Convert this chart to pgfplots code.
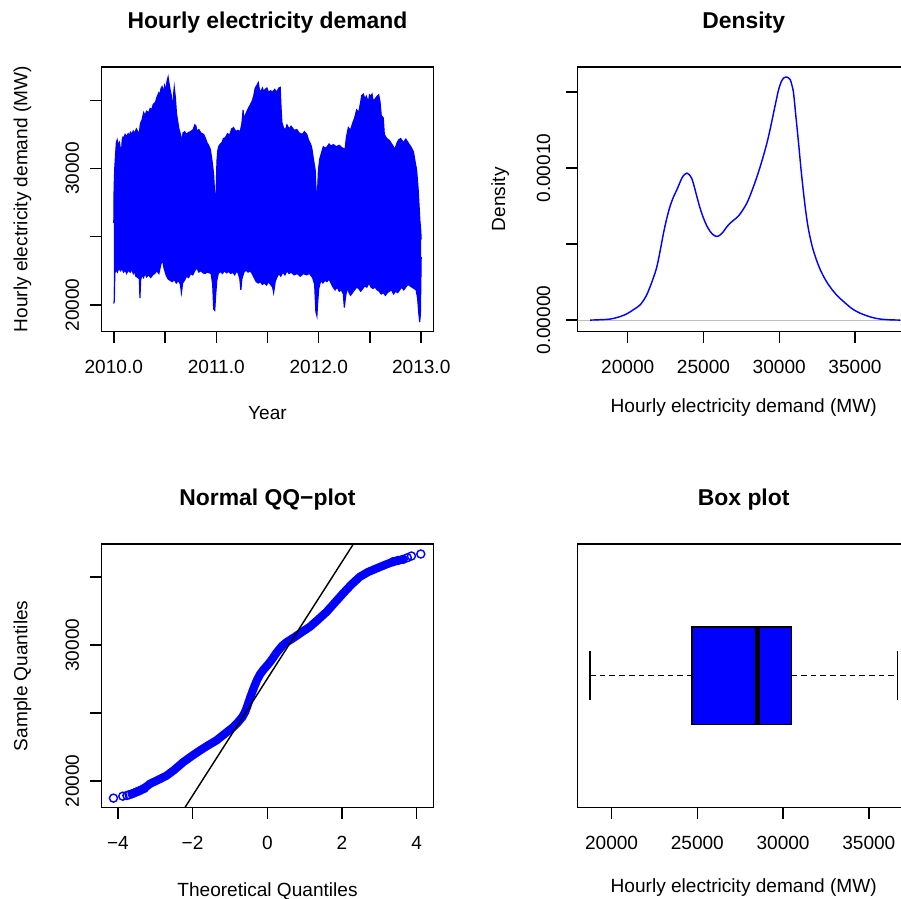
\documentclass[border=0pt]{standalone}
\usepackage{fontspec}
\setmainfont{Liberation Sans}
\usepackage{pgfplots}
\pgfplotsset{compat=1.18}
\usepgfplotslibrary{fillbetween}
\newlength\px
\setlength\px{0.5244pt}
\definecolor{rblue}{RGB}{0,0,255}
\definecolor{rgray}{RGB}{190,190,190}
\pgfplotsset{
  rpanel/.style={
    scale only axis, anchor=south west,
    width=332\px, height=264.5\px,
    axis line style={line width=0.75pt},
    every tick/.style={black, line width=0.75pt},
    tick align=outside, major tick length=11.5\px,
    tick pos=left, scaled ticks=false,
    xticklabel style={anchor=base, yshift=-30.8\px},
    every axis title/.style={at={(axis description cs:0.5,1)}, anchor=base,
      yshift=38.5\px, font={\fontsize{12}{14}\selectfont\bfseries}},
    every axis x label/.style={at={(axis description cs:0.5,0)}, anchor=base, yshift=-88.5\px},
    every axis y label/.style={at={(axis description cs:0,0.5)}, xshift=-74\px, rotate=90, anchor=base},
  }
}
\begin{document}
\begin{tikzpicture}

% --- time series ---
\begin{axis}[rpanel, at={(101.5\px,-331.5\px)},
  xmin=2009.88, xmax=2013.12, ymin=18050, ymax=37440,
  xtick={2010,2010.5,2011,2011.5,2012,2012.5,2013},
  xticklabels={2010.0,,2011.0,,2012.0,,2013.0},
  ytick={20000,25000,30000,35000}, yticklabels={20000,,30000,},
  yticklabel style={xshift=-11.2\px, rotate=90, anchor=base},
  title={Hourly electricity demand}, xlabel={Year},
  ylabel={Hourly electricity demand (MW)}]
\addplot[rblue, line width=0.6pt, name path=up] coordinates {
(2010.000,26000) (2010.003,28600) (2010.010,30100) (2010.017,31000) (2010.025,31900) (2010.033,32100)
(2010.045,31700) (2010.055,31900) (2010.065,31400) (2010.075,31200) (2010.082,32100) (2010.090,32300)
(2010.098,32250) (2010.110,32500) (2010.125,32350) (2010.140,32550) (2010.150,32400) (2010.163,32650)
(2010.175,32500) (2010.190,32750) (2010.205,32600) (2010.220,32900) (2010.235,32700) (2010.244,32400)
(2010.252,32800) (2010.260,33300) (2010.275,33550) (2010.292,34100) (2010.305,33850) (2010.320,34200)
(2010.341,34100) (2010.355,34400) (2010.370,34300) (2010.385,34700) (2010.406,34850) (2010.420,35200)
(2010.439,35550) (2010.450,35350) (2010.460,35850) (2010.471,36000) (2010.485,35600) (2010.495,36050)
(2010.504,35700) (2010.520,36400) (2010.530,36700) (2010.540,36200) (2010.550,35750) (2010.560,35400)
(2010.569,34300) (2010.578,35000) (2010.590,35950) (2010.601,35200) (2010.612,34000) (2010.625,33400)
(2010.633,33000) (2010.650,32500) (2010.666,32000) (2010.675,32600) (2010.690,32700) (2010.710,32500)
(2010.730,32650) (2010.750,32700) (2010.775,32850) (2010.790,33200) (2010.800,33150) (2010.812,32700)
(2010.830,32850) (2010.850,32600) (2010.877,32500) (2010.895,32200) (2010.909,31900) (2010.925,31700)
(2010.942,31400) (2010.958,30600) (2010.974,29600) (2010.985,28000) (2010.991,27400) (2010.998,28200)
(2011.007,30600) (2011.015,31300) (2011.023,31600) (2011.040,31800) (2011.056,31900) (2011.070,32200)
(2011.088,32250) (2011.110,32550) (2011.130,32450) (2011.150,32900) (2011.169,33000) (2011.190,32700)
(2011.210,32800) (2011.234,32700) (2011.250,33300) (2011.262,34300) (2011.270,33600) (2011.283,33900)
(2011.300,34200) (2011.320,34500) (2011.348,34900) (2011.365,35300) (2011.380,35900) (2011.397,36100)
(2011.410,36300) (2011.420,35800) (2011.435,35600) (2011.450,35900) (2011.462,35650) (2011.478,35800)
(2011.494,35900) (2011.510,35600) (2011.530,35700) (2011.550,35600) (2011.570,35800) (2011.590,35600)
(2011.610,35900) (2011.624,35950) (2011.632,34500) (2011.640,33400) (2011.655,33000) (2011.673,32800)
(2011.690,33200) (2011.710,32900) (2011.730,33100) (2011.760,32800) (2011.786,32850) (2011.810,32600)
(2011.840,32500) (2011.860,32700) (2011.883,32500) (2011.900,32100) (2011.920,31800) (2011.932,31500)
(2011.950,30600) (2011.965,29900) (2011.975,28300) (2011.981,27300) (2011.990,28600) (2011.997,29900)
(2012.010,30700) (2012.029,31200) (2012.045,31600) (2012.060,31500) (2012.078,31550) (2012.100,31800)
(2012.120,31650) (2012.143,31750) (2012.170,31600) (2012.200,31700) (2012.230,31500) (2012.257,31400)
(2012.270,32300) (2012.289,33000) (2012.310,32800) (2012.330,33300) (2012.350,33700) (2012.370,34300)
(2012.390,34100) (2012.410,34900) (2012.420,35350) (2012.435,35450) (2012.450,35100) (2012.465,35300)
(2012.484,34800) (2012.495,35400) (2012.510,35300) (2012.520,35450) (2012.533,34900) (2012.550,35100)
(2012.570,35300) (2012.585,35400) (2012.598,34900) (2012.610,33900) (2012.630,33700) (2012.640,32500)
(2012.663,32200) (2012.690,32050) (2012.720,31700) (2012.744,31400) (2012.760,31800) (2012.780,32100)
(2012.800,32200) (2012.825,31900) (2012.850,32150) (2012.880,31800) (2012.906,31500) (2012.925,31200)
(2012.938,30600) (2012.955,29900) (2012.970,28500) (2012.987,26200) (2012.995,25500) (2013.000,24800)
};
\addplot[rblue, line width=0.6pt, name path=lo] coordinates {
(2010.000,20100) (2010.005,20300) (2010.010,22300) (2010.020,22600) (2010.035,22400) (2010.050,22700)
(2010.065,22500) (2010.080,22650) (2010.095,22400) (2010.110,22550) (2010.125,22300) (2010.140,22550)
(2010.160,22400) (2010.175,22600) (2010.190,22300) (2010.200,22500) (2010.215,22100) (2010.235,22000)
(2010.250,21900) (2010.255,20500) (2010.262,21800) (2010.275,22200) (2010.290,22000) (2010.305,22300)
(2010.320,22050) (2010.340,22200) (2010.360,22000) (2010.380,22200) (2010.400,22300) (2010.420,22500)
(2010.440,22300) (2010.460,23000) (2010.475,23300) (2010.490,22700) (2010.510,22200) (2010.530,21900)
(2010.550,21800) (2010.570,21700) (2010.590,21850) (2010.610,21600) (2010.630,21800) (2010.650,21500)
(2010.660,20900) (2010.672,21600) (2010.690,21800) (2010.710,22100) (2010.730,22000) (2010.750,22300)
(2010.770,22200) (2010.790,22500) (2010.810,22700) (2010.830,22400) (2010.850,22500) (2010.870,22350)
(2010.890,22300) (2010.910,22400) (2010.930,22350) (2010.950,22300) (2010.965,21500) (2010.975,19700)
(2010.985,19600) (2010.995,20800) (2011.005,21800) (2011.020,22300) (2011.040,22450) (2011.060,22300)
(2011.080,22500) (2011.100,22350) (2011.120,22450) (2011.140,22300) (2011.160,22400) (2011.180,22200)
(2011.200,22500) (2011.215,22300) (2011.230,21900) (2011.240,21100) (2011.250,21900) (2011.270,22400)
(2011.290,22550) (2011.310,22400) (2011.330,22500) (2011.350,22300) (2011.370,22000) (2011.390,21700)
(2011.410,21600) (2011.430,21700) (2011.450,21500) (2011.470,21600) (2011.490,21450) (2011.510,21700)
(2011.530,21500) (2011.550,21300) (2011.560,20900) (2011.575,21700) (2011.590,22000) (2011.610,22300)
(2011.630,22100) (2011.650,22400) (2011.670,22200) (2011.690,22500) (2011.710,22300) (2011.730,22400)
(2011.760,22200) (2011.790,22300) (2011.820,22100) (2011.850,22300) (2011.880,22200) (2011.910,22300)
(2011.940,22000) (2011.960,21500) (2011.972,19500) (2011.982,19200) (2011.990,20200) (2012.000,21200)
(2012.020,21800) (2012.040,21600) (2012.060,21800) (2012.080,21700) (2012.100,21900) (2012.120,21600)
(2012.140,21300) (2012.160,21100) (2012.180,21300) (2012.200,21000) (2012.220,21100) (2012.240,20800)
(2012.250,19800) (2012.260,20500) (2012.275,21200) (2012.290,21000) (2012.310,20700) (2012.330,20900)
(2012.350,21100) (2012.370,21300) (2012.390,21200) (2012.410,21000) (2012.430,21200) (2012.450,21400)
(2012.470,21300) (2012.490,21600) (2012.510,21300) (2012.530,21200) (2012.550,21300) (2012.570,21100)
(2012.590,21000) (2012.610,20800) (2012.630,20900) (2012.650,20700) (2012.670,20900) (2012.690,21000)
(2012.710,21100) (2012.730,20800) (2012.750,21000) (2012.770,20900) (2012.790,21100) (2012.810,21300)
(2012.830,21100) (2012.850,21300) (2012.870,21500) (2012.890,21400) (2012.910,21300) (2012.930,21200)
(2012.950,21100) (2012.965,20500) (2012.975,19500) (2012.985,18750) (2012.992,19300) (2013.000,23500)
};
\addplot[rblue] fill between[of=up and lo];
\end{axis}

% --- density ---
\begin{axis}[rpanel, at={(577.7\px,-331.5\px)},
  xmin=16700, xmax=38610, ymin=-0.0000075, ymax=0.0001665,
  xtick={20000,25000,30000,35000}, xticklabels={20000,25000,30000,35000},
  ytick={0,0.00005,0.0001,0.00015}, yticklabels={0.00000,,0.00010,},
  yticklabel style={xshift=-16.2\px, rotate=90, anchor=base},
  every axis y label/.style={at={(axis description cs:0,0.5)}, xshift=-72.5\px, rotate=90, anchor=base},
  every axis x label/.style={at={(axis description cs:0.5,0)}, anchor=base, yshift=-81\px},
  title={Density}, xlabel={Hourly electricity demand (MW)}, ylabel={Density}]
\addplot[rgray, line width=0.5pt] coordinates {(16000,0) (40000,0)};
\addplot[rblue, line width=0.75pt, smooth] coordinates {
(17517,0) (18200,2.5e-7) (18838,6.6e-7) (19400,2.0e-6) (19941,4.1e-6) (20400,7.0e-6) (20819,1.0e-5)
(21200,1.55e-5) (21480,2.2e-5) (21700,2.8e-5) (21922,3.5e-5) (22150,4.6e-5) (22358,5.7e-5) (22580,6.7e-5)
(22800,7.5e-5) (23020,8.1e-5) (23243,8.57e-5) (23573,9.34e-5) (23750,9.58e-5) (23904,9.67e-5) (24050,9.58e-5)
(24234,9.3e-5) (24400,8.75e-5) (24564,8.13e-5) (24780,7.35e-5) (25000,6.71e-5) (25220,6.2e-5) (25443,5.83e-5)
(25660,5.6e-5) (25885,5.5e-5) (26100,5.6e-5) (26321,5.83e-5) (26550,6.15e-5) (26764,6.38e-5) (27050,6.62e-5)
(27312,6.85e-5) (27600,7.25e-5) (27867,7.7e-5) (28100,8.25e-5) (28303,8.79e-5) (28520,9.4e-5) (28745,1.01e-4)
(28970,1.085e-4) (29188,1.165e-4) (29410,1.26e-4) (29624,1.362e-4) (29800,1.445e-4) (29954,1.515e-4)
(30120,1.565e-4) (30284,1.592e-4) (30509,1.599e-4) (30727,1.581e-4) (30850,1.54e-4) (30945,1.493e-4)
(31100,1.34e-4) (31275,1.165e-4) (31440,9.9e-5) (31605,8.36e-5) (31770,7.0e-5) (31935,5.94e-5) (32150,4.95e-5)
(32378,4.18e-5) (32650,3.45e-5) (32926,2.87e-5) (33250,2.33e-5) (33587,1.88e-5) (33900,1.53e-5) (34247,1.22e-5)
(34580,9.3e-6) (34908,6.8e-6) (35350,4.5e-6) (35793,2.8e-6) (36230,1.5e-6) (36671,6.6e-7) (37300,2e-7) (37992,0)
};
\end{axis}

% --- normal QQ plot ---
\begin{axis}[rpanel, at={(101.5\px,-807.5\px)}, height=263.5\px,
  xmin=-4.44, xmax=4.45, ymin=18050, ymax=37440,
  xtick={-4,-2,0,2,4}, xticklabels={−4,−2,0,2,4},
  ytick={20000,25000,30000,35000}, yticklabels={20000,,30000,},
  yticklabel style={xshift=-11.2\px, rotate=90, anchor=base},
  title={Normal QQ−plot}, xlabel={Theoretical Quantiles}, ylabel={Sample Quantiles}]
\addplot[rblue, line width=8.3\px, line cap=round, line join=round] coordinates {
(-3.62,19060) (-3.5,19200) (-3.41,19303) (-3.3,19450) (-3.14,19797) (-3.0,19980) (-2.85,20180) (-2.69,20409)
(-2.5,20800) (-2.25,21390) (-2.0,21880) (-1.80,22253) (-1.6,22600) (-1.36,22990) (-1.15,23450) (-0.91,23971)
(-0.80,24280) (-0.674,24690) (-0.60,25050) (-0.55,25400) (-0.45,26200) (-0.37,26800) (-0.28,27400)
(-0.195,27850) (-0.1,28200) (0,28512) (0.1,28850) (0.25,29450) (0.40,29950) (0.52,30220) (0.674,30484)
(0.79,30700) (0.95,31000) (1.14,31344) (1.35,31850) (1.59,32450) (1.8,33100) (2.03,33806) (2.25,34450)
(2.48,35030) (2.7,35380) (2.93,35649) (3.15,35900) (3.37,36136) (3.5,36230) (3.64,36313)
};
\addplot[rblue, only marks, mark=o, mark size=4\px, mark options={line width=0.75pt}] coordinates {
(-4.12,18741) (-3.87,18883) (-3.76,18935) (-3.70,18990) (-3.62,19060) (-3.5,19200) (-3.41,19303) (-3.3,19450)
(3.37,36136) (3.5,36230) (3.64,36313) (3.75,36430) (3.86,36556) (4.11,36704)
};
\addplot[black, line width=0.75pt] coordinates {(-3,14633) (3,40427)};
\end{axis}

% --- box plot ---
\begin{axis}[rpanel, at={(577.7\px,-807.5\px)}, height=263.5\px,
  xmin=18024, xmax=37384, ymin=0.46, ymax=1.54,
  xtick={20000,25000,30000,35000}, xticklabels={20000,25000,30000,35000},
  ytick=\empty,
  every axis x label/.style={at={(axis description cs:0.5,0)}, anchor=base, yshift=-85\px},
  title={Box plot}, xlabel={Hourly electricity demand (MW)}]
\addplot[black, line width=0.75pt, dash pattern=on 5.7\px off 4\px] coordinates {(18741,1) (24690,1)};
\addplot[black, line width=0.75pt, dash pattern=on 5.7\px off 4\px] coordinates {(30484,1) (36667,1)};
\addplot[black, line width=0.75pt] coordinates {(18741,0.9) (18741,1.1)};
\addplot[black, line width=0.75pt] coordinates {(36667,0.9) (36667,1.1)};
\addplot[draw=black, fill=rblue, line width=0.75pt] coordinates {
(24690,0.8) (30484,0.8) (30484,1.2) (24690,1.2) (24690,0.8)};
\addplot[black, line width=2.25pt] coordinates {(28512,0.8) (28512,1.2)};
\end{axis}

\pgfresetboundingbox
\path[use as bounding box] (0,0) rectangle (901\px,-899\px);
\end{tikzpicture}
\end{document}
